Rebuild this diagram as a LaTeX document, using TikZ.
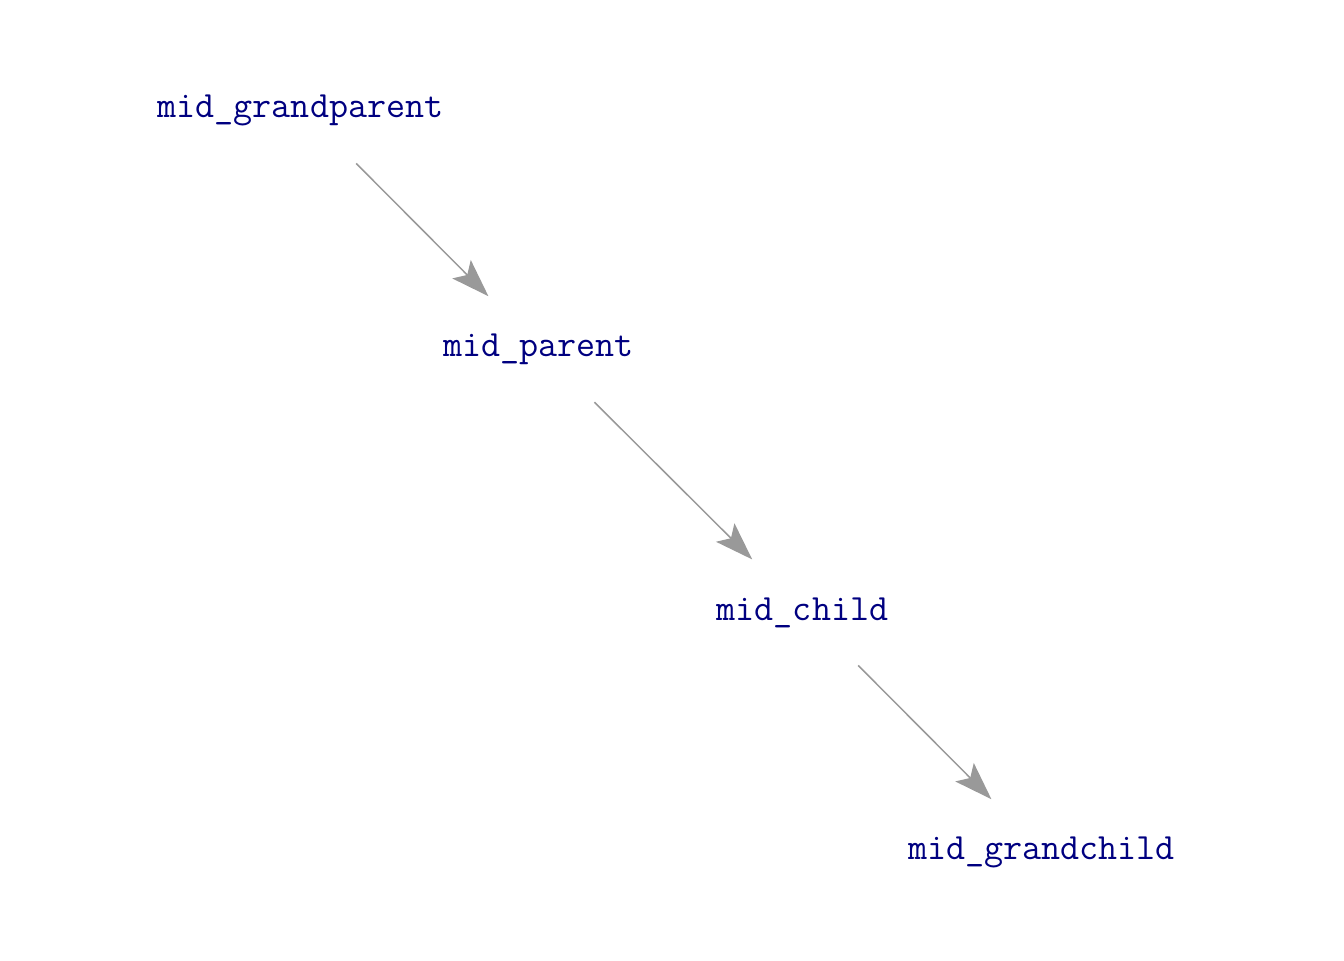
\documentclass[tikz,border=0pt]{standalone}
\usetikzlibrary{arrows.meta}
\definecolor{labelblue}{RGB}{0,0,128}
\definecolor{edgegrey}{RGB}{153,153,153}
\begin{document}
\begin{tikzpicture}[x=0.5pt,y=-0.5pt,
  lbl/.style={inner sep=0pt,text=labelblue,font=\fontsize{18.5}{21}\selectfont\ttfamily},
  edge/.style={draw=edgegrey,line width=0.75pt,
    -{Stealth[length=19pt,width=13pt,inset=4pt]},
    shorten <=39.5pt,shorten >=35.5pt}]
\useasboundingbox (0,0) rectangle (1344,960);
\node[lbl] (gp) at (300.5,110.5) {mid\_grandparent};
\node[lbl] (p) at (538.5,349.5) {mid\_parent};
\node[lbl] (c) at (802.5,612.5) {mid\_child};
\node[lbl] (gc) at (1041.5,852.5) {mid\_grandchild};
\draw[edge] ([yshift=1.5pt]gp.center) -- ([yshift=1.5pt]p.center);
\draw[edge] ([yshift=1.5pt]p.center) -- ([yshift=1.5pt]c.center);
\draw[edge] ([yshift=1.5pt]c.center) -- ([yshift=1.5pt]gc.center);
\end{tikzpicture}
\end{document}
